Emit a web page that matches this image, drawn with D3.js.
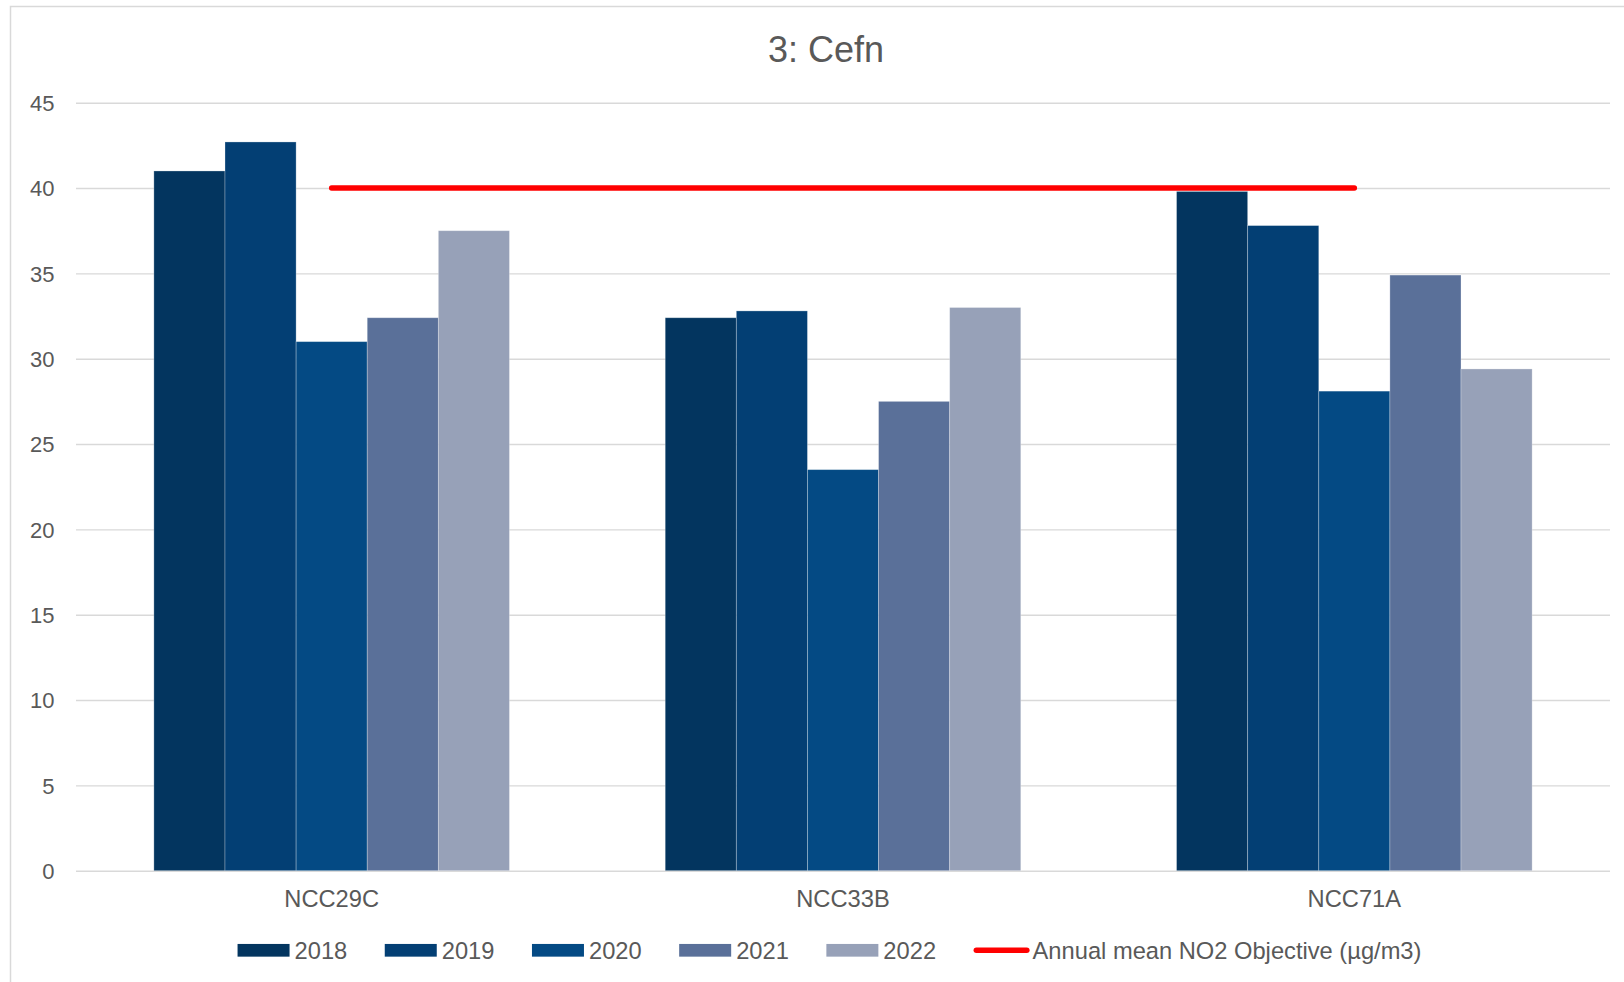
<!DOCTYPE html>
<html>
<head>
<meta charset="utf-8">
<script src="https://cdn.jsdelivr.net/npm/d3@7"></script>
<style>
  html, body { margin: 0; padding: 0; background: #ffffff; }
  svg { display: block; font-family: "Liberation Sans", Arial, sans-serif; }
</style>
</head>
<body>
<svg id="chart" width="1624" height="982"></svg>
<script>
// ---- data ----
const title = "3: Cefn";
const categories = ["NCC29C", "NCC33B", "NCC71A"];
const years = ["2018", "2019", "2020", "2021", "2022"];
const v2018 = [41.0, 32.4, 39.8];
const v2019 = [42.7, 32.8, 37.8];
const v2020 = [31.0, 23.5, 28.1];
const v2021 = [32.4, 27.5, 34.9];
const v2022 = [37.5, 33.0, 29.4];
const objectiveLabel = "Annual mean NO2 Objective (µg/m3)";
const objectiveValues = [40, 40, 40];
const yTicks = [0, 5, 10, 15, 20, 25, 30, 35, 40, 45];

// ---- styles ----
const colors = ["#03355F", "#033F74", "#044A84", "#5A7099", "#97A1B8"];
const textColor = "#595959";
const gridColor = "#D9D9D9";
const redColor = "#FF0000";

const series = [v2018, v2019, v2020, v2021, v2022];

const svg = d3.select("#chart");

// chart border
svg.append("rect")
  .attr("x", 10.5).attr("y", 6.5)
  .attr("width", 1640).attr("height", 1000)
  .attr("fill", "none").attr("stroke", gridColor).attr("stroke-width", 1.5);

const plotLeft = 76, plotRight = 1610, plotTop = 102.7, plotBottom = 870.7;

const x0 = d3.scaleBand().domain(categories).range([plotLeft, plotRight]).padding(0);
const step = x0.step();
const gapRatio = 2.19;
const barW = step / (years.length + gapRatio);
const groupOffset = (step - barW * years.length) / 2;
const x1 = d3.scaleBand().domain(years)
  .range([groupOffset, groupOffset + barW * years.length]).padding(0);

const y = d3.scaleLinear().domain([0, 45]).range([plotBottom, plotTop]);

// gridlines + y tick labels via axis
const yAxis = d3.axisLeft(y).tickValues(yTicks).tickSize(-(plotRight - plotLeft)).tickPadding(22);
const gy = svg.append("g").attr("transform", `translate(${plotLeft},0)`).call(yAxis);
gy.select(".domain").remove();
gy.selectAll(".tick line").attr("stroke", gridColor).attr("stroke-width", 1.4);
gy.selectAll(".tick text")
  .attr("fill", textColor)
  .style("font-size", "22px")
  .attr("x", 54.5 - plotLeft)
  .attr("dy", "0.35em");

// bars
const groups = svg.append("g").selectAll("g")
  .data(categories)
  .join("g")
  .attr("transform", d => `translate(${x0(d)},0)`);

groups.selectAll("rect")
  .data((c, ci) => years.map((yr, si) => ({ yr, si, v: series[si][ci] })))
  .join("rect")
  .attr("x", d => x1(d.yr))
  .attr("y", d => y(d.v))
  .attr("width", x1.bandwidth())
  .attr("height", d => y(0) - y(d.v))
  .attr("fill", d => colors[d.si])
  .attr("stroke", "rgba(255,255,255,0.35)")
  .attr("stroke-width", 0.8);

// objective line (category centres)
const line = d3.line()
  .x((d, i) => x0(categories[i]) + step / 2)
  .y(d => y(d));
svg.append("path")
  .datum(objectiveValues)
  .attr("d", line)
  .attr("fill", "none")
  .attr("stroke", redColor)
  .attr("stroke-width", 5.5)
  .attr("stroke-linecap", "round");

// category labels via axis
const xAxis = d3.axisBottom(x0).tickSize(0).tickPadding(0);
const gx = svg.append("g").attr("transform", `translate(0,${plotBottom})`).call(xAxis);
gx.select(".domain").remove();
gx.selectAll(".tick text")
  .attr("fill", textColor)
  .style("font-size", "23.7px")
  .attr("y", 36.3)
  .attr("dy", 0);

// title
svg.append("text")
  .attr("x", 826).attr("y", 61.5)
  .attr("text-anchor", "middle")
  .attr("fill", textColor)
  .style("font-size", "36px")
  .text(title);

// legend
const legendY = 950.3;
const legend = svg.append("g");
const swW = 52, swH = 12.7, swGap = 5, itemGap = 37.5, lineW = 56, lineGap = 3;
const items = years.map((yr, i) => ({ type: "bar", label: yr, color: colors[i] }))
  .concat([{ type: "line", label: objectiveLabel, color: redColor }]);

// measure
const meas = svg.append("text").style("font-size", "23.7px").attr("visibility", "hidden");
items.forEach(it => {
  meas.text(it.label);
  it.tw = meas.node().getComputedTextLength();
  it.w = (it.type === "bar" ? swW + swGap : lineW + lineGap) + it.tw;
});
meas.remove();
const totalW = d3.sum(items, d => d.w) + itemGap * (items.length - 1);
let cx = 829.5 - totalW / 2;
items.forEach(it => {
  if (it.type === "bar") {
    legend.append("rect")
      .attr("x", cx).attr("y", legendY - swH / 2)
      .attr("width", swW).attr("height", swH)
      .attr("fill", it.color);
    legend.append("text")
      .attr("x", cx + swW + swGap).attr("y", legendY + 8.4)
      .attr("fill", textColor).style("font-size", "23.7px")
      .text(it.label);
  } else {
    legend.append("line")
      .attr("x1", cx + 2.75).attr("x2", cx + lineW - 2.75)
      .attr("y1", legendY).attr("y2", legendY)
      .attr("stroke", it.color).attr("stroke-width", 5.5)
      .attr("stroke-linecap", "round");
    legend.append("text")
      .attr("x", cx + lineW + lineGap).attr("y", legendY + 8.4)
      .attr("fill", textColor).style("font-size", "23.7px")
      .text(it.label);
  }
  cx += it.w + itemGap;
});
</script>
</body>
</html>
